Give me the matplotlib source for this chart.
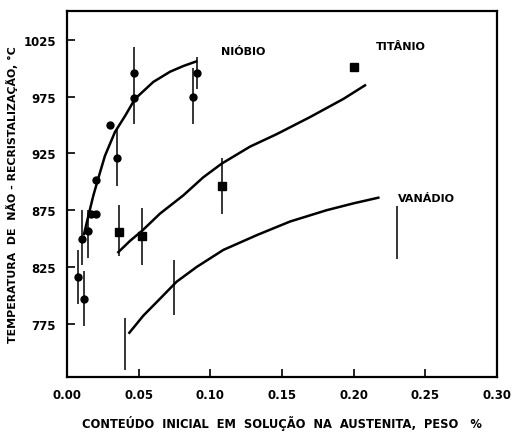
import numpy as np
import matplotlib
matplotlib.use("Agg")
import matplotlib.pyplot as plt

# Niobio: measured points and scatter bars
nb_x = [0.0074, 0.0107, 0.0119, 0.0149, 0.017, 0.020, 0.020, 0.030, 0.035, 0.0467, 0.0467, 0.088, 0.0905]
nb_y = [816, 850, 797, 857, 872, 872, 902, 950, 921, 996, 974, 975, 996]
nb_bar_x = [0.0074, 0.0107, 0.0119, 0.0149, 0.035, 0.0467, 0.088, 0.0905]
nb_bar_lo = [792, 827, 773, 833, 896, 951, 951, 982]
nb_bar_hi = [840, 875, 821, 875, 947, 1019, 1000, 1010]
nb_curve_x = [0.0119, 0.0149, 0.0184, 0.0218, 0.0265, 0.0335, 0.0405, 0.0474,
              0.0602, 0.0719, 0.0811, 0.0900]
nb_curve_y = [854, 870, 888, 903, 923, 944, 958, 973, 988, 997, 1002, 1006]

# Titanio
ti_x = [0.0363, 0.0525, 0.108, 0.2002]
ti_y = [856, 852, 896, 1001]
ti_bar_x = [0.0363, 0.0525, 0.108]
ti_bar_lo = [835, 827, 872]
ti_bar_hi = [880, 877, 921]
ti_curve_x = [0.0358, 0.044, 0.0525, 0.0649, 0.0811, 0.0951, 0.1079, 0.1277,
              0.1463, 0.1695, 0.1928, 0.2079]
ti_curve_y = [838, 848, 857, 872, 888, 904, 916, 931, 942, 957, 973, 985]

# Vanadio (only bars, no points)
v_bar_x = [0.0405, 0.0749, 0.230]
v_bar_lo = [734, 783, 832]
v_bar_hi = [780, 831, 879]
v_curve_x = [0.0435, 0.0532, 0.0649, 0.0765, 0.0905, 0.1091, 0.1324, 0.1556,
             0.1812, 0.1998, 0.2172]
v_curve_y = [767, 782, 797, 812, 825, 840, 853, 865, 875, 881, 886]

x_ticks = [0.00, 0.05, 0.10, 0.15, 0.20, 0.25, 0.30]
y_ticks = [775, 825, 875, 925, 975, 1025]

plt.rcParams['font.family'] = ['DejaVu Sans']

fig = plt.figure(figsize=(5.17, 4.35), dpi=100)
ax = fig.add_axes([0.1296, 0.131, 0.8317, 0.8414])

for cx, cy in [(nb_curve_x, nb_curve_y), (ti_curve_x, ti_curve_y), (v_curve_x, v_curve_y)]:
    ax.plot(cx, cy, color='black', lw=1.8, solid_joinstyle='round')

ax.vlines(nb_bar_x, nb_bar_lo, nb_bar_hi, color='black', lw=1.1)
ax.vlines(ti_bar_x, ti_bar_lo, ti_bar_hi, color='black', lw=1.1)
ax.vlines(v_bar_x, v_bar_lo, v_bar_hi, color='black', lw=1.1)

ax.plot(nb_x, nb_y, 'o', color='black', ms=5)
ax.plot(ti_x, ti_y, 's', color='black', ms=6)

ax.text(0.1074, 1015, 'NIÓBIO', fontsize=8, fontweight='bold', va='center')
ax.text(0.2155, 1020, 'TITÂNIO', fontsize=8, fontweight='bold', va='center')
ax.text(0.2310, 886, 'VANÁDIO', fontsize=8, fontweight='bold', va='center')

ax.set_xlim(0, 0.30)
ax.set_ylim(728, 1050.5)
ax.set_xticks(x_ticks)
ax.set_xticklabels(['%.2f' % v for v in x_ticks])
ax.set_yticks(y_ticks)
ax.tick_params(direction='in', length=6, width=1.2, labelsize=8.5, pad=8)
for lab in ax.get_xticklabels() + ax.get_yticklabels():
    lab.set_fontweight('bold')
for sp in ax.spines.values():
    sp.set_linewidth(1.6)

ax.set_xlabel('CONTEÚDO  INICIAL  EM  SOLUÇÃO  NA  AUSTENITA,  PESO   %',
              fontsize=8.3, fontweight='bold', labelpad=10)
ax.set_ylabel('TEMPERATURA  DE  NÃO - RECRISTALIZAÇÃO, °C',
              fontsize=7.9, fontweight='bold', labelpad=4)

fig.savefig('out.png', dpi=100)
